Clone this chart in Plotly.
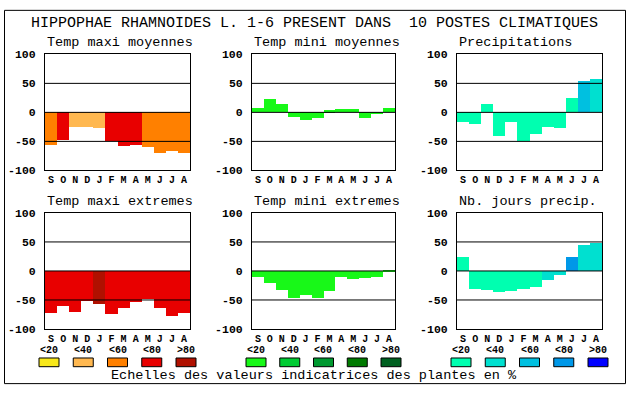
import plotly.graph_objects as go

W, H = 630, 394

months = ["S", "O", "N", "D", "J", "F", "M", "A", "M", "J", "J", "A"]

# Series values (% indicator values) and class index (0..4 -> <20,<40,<60,<80,>80)
tmax_moy = [-56, -48, -25, -25, -28, -50, -58, -57, -61, -71, -67, -71]
tmax_moy_cls = [2, 3, 1, 1, 1, 3, 3, 3, 2, 2, 2, 2]

tmin_moy = [7, 23, 13, -8, -14, -11, 3, 5, 5, -11, -3, 7]
tmin_moy_cls = [0] * 12

precip = [-18, -21, 13, -42, -18, -50, -38, -25, -27, 25, 53, 57]
precip_cls = [0, 0, 0, 0, 0, 0, 0, 0, 0, 0, 2, 1]

tmax_ext = [-72, -61, -71, -51, -57, -74, -64, -54, -48, -64, -77, -72]
tmax_ext_cls = [3, 3, 3, 3, 4, 3, 3, 3, 3, 3, 3, 3]

tmin_ext = [-11, -21, -32, -46, -42, -46, -34, -11, -14, -12, -11, 2]
tmin_ext_cls = [0] * 12

nbjours = [24, -31, -33, -37, -34, -31, -27, -16, -6, 24, 45, 49]
nbjours_cls = [0, 0, 0, 0, 0, 0, 0, 1, 1, 3, 1, 1]

class_labels = ["<20", "<40", "<60", "<80", ">80"]
y_ticks = [100, 50, 0, -50, -100]

warm = ["#F8E81A", "#FFB850", "#FF8000", "#E80000", "#B01000"]
greens = ["#18F818", "#00CC33", "#009930", "#007A00", "#006020"]
blues = ["#00FFB0", "#00E0D0", "#00C0E0", "#0098E8", "#0000FF"]

title = "HIPPOPHAE RHAMNOIDES L. 1-6 PRESENT DANS  10 POSTES CLIMATIQUES"
footer = "Echelles des valeurs indicatrices des plantes en %"

panels = [
    ("Temp maxi moyennes", tmax_moy, tmax_moy_cls, warm),
    ("Temp mini moyennes", tmin_moy, tmin_moy_cls, greens),
    ("Precipitations", precip, precip_cls, blues),
    ("Temp maxi extremes", tmax_ext, tmax_ext_cls, warm),
    ("Temp mini extremes", tmin_ext, tmin_ext_cls, greens),
    ("Nb. jours precip.", nbjours, nbjours_cls, blues),
]

# layout geometry in pixels
col_x = [(45, 190), (252, 395), (457, 602)]
row_y = [(50, 170), (214, 334)]

MONO = "Liberation Mono"

fig = go.Figure()
annotations = []
shapes = []

for i, (name, vals, cls, pal) in enumerate(panels):
    r, c = divmod(i, 3)
    k = i + 1
    xa = "x" if k == 1 else f"x{k}"
    ya = "y" if k == 1 else f"y{k}"
    x0, x1 = col_x[c]
    y0, y1 = row_y[r]
    fig.add_trace(go.Bar(
        x=list(range(12)), y=vals,
        marker=dict(color=[pal[j] for j in cls], line=dict(width=0)),
        xaxis=xa, yaxis=ya, showlegend=False, hoverinfo="skip",
    ))
    xkey = "xaxis" if k == 1 else f"xaxis{k}"
    ykey = "yaxis" if k == 1 else f"yaxis{k}"
    fig.layout[xkey] = dict(
        domain=[x0 / W, x1 / W], anchor=ya, range=[-0.5, 11.5],
        tickmode="array", tickvals=list(range(12)), ticktext=months,
        showgrid=False, zeroline=False, showline=True, mirror=True,
        linecolor="black", linewidth=1, ticks="", fixedrange=True,
        tickfont=dict(family=MONO, size=10, color="black", weight="bold"),
        ticklabelstandoff=0,
    )
    fig.layout[ykey] = dict(
        domain=[1 - y1 / H, 1 - y0 / H], anchor=xa, range=[-100, 100],
        tickmode="array", tickvals=y_ticks, ticktext=[str(v) for v in y_ticks],
        showgrid=False, zeroline=False, showline=True, mirror=True,
        linecolor="black", linewidth=1, ticks="", fixedrange=True,
        tickfont=dict(family=MONO, size=11.5, color="black", weight="bold"),
        ticklabelstandoff=6,
    )
    # reference lines drawn above bars
    for v in (50, 0, -50):
        shapes.append(dict(type="line", xref=f"{xa} domain", yref=ya,
                           x0=0, x1=1, y0=v, y1=v, layer="above",
                           line=dict(color="black", width=1)))
    annotations.append(dict(
        text=name, x=x0 / W, y=1 - (y0 - 12) / H, xref="paper", yref="paper",
        xanchor="left", yanchor="middle", showarrow=False,
        font=dict(family=MONO, size=13.5, color="black"),
    ))
    # class scale legend under bottom row
    if r == 1:
        for j in range(5):
            cx = x0 + 4 + j * (x1 - x0 - 8) / 4
            annotations.append(dict(
                text=class_labels[j], x=cx / W, y=1 - 356.5 / H,
                xref="paper", yref="paper", xanchor="center", yanchor="middle",
                showarrow=False,
                font=dict(family=MONO, size=10, color="black", weight="bold"),
            ))
            shapes.append(dict(
                type="rect", xref="paper", yref="paper",
                x0=(cx - 10) / W, x1=(cx + 10) / W,
                y0=1 - 373 / H, y1=1 - 364 / H,
                fillcolor=pal[j], line=dict(color="black", width=1),
            ))

annotations.append(dict(
    text=title, x=314 / W, y=1 - 18 / H, xref="paper", yref="paper",
    xanchor="center", yanchor="middle", showarrow=False,
    font=dict(family=MONO, size=15, color="black"),
))
annotations.append(dict(
    text=footer, x=314 / W, y=1 - 382 / H, xref="paper", yref="paper",
    xanchor="center", yanchor="middle", showarrow=False,
    font=dict(family=MONO, size=13.5, color="black"),
))
# outer frame
shapes.append(dict(type="rect", xref="paper", yref="paper",
                   x0=4.5 / W, x1=625.5 / W, y0=1 - 390.5 / H, y1=1 - 4.5 / H,
                   line=dict(color="black", width=1), layer="above"))

fig.update_layout(
    width=W, height=H, margin=dict(l=0, r=0, t=0, b=0),
    paper_bgcolor="white", plot_bgcolor="white",
    bargap=0, showlegend=False,
    annotations=annotations, shapes=shapes,
)

fig.write_html(
    "out.html",
    config={"displayModeBar": False},
    post_script="document.body.style.margin='0';document.body.style.padding='0';",
)
